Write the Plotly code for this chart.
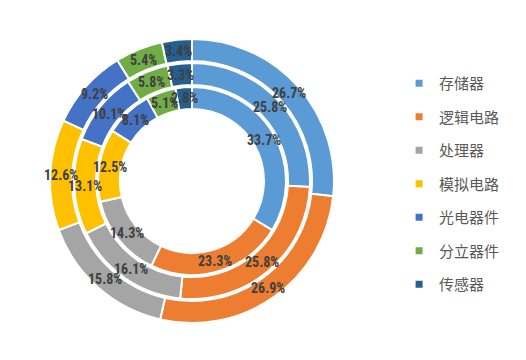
import math
import plotly.graph_objects as go

categories = ["存储器", "逻辑电路", "处理器", "模拟电路", "光电器件", "分立器件", "传感器"]
outer_vals = [26.7, 26.9, 15.8, 12.6, 9.2, 5.4, 3.4]
middle_vals = [25.8, 25.8, 16.1, 13.1, 10.1, 5.8, 3.3]
inner_vals = [33.7, 23.3, 14.3, 12.5, 8.1, 5.1, 2.8]
colors = ["#5B9BD5", "#ED7D31", "#A5A5A5", "#FFC000", "#4472C4", "#70AD47", "#255E91"]

# page body has an 8px margin, so the figure is drawn 8px smaller and offset
W, H = 518, 352
CX, CY = 184, 173  # pixel centre within the figure
R_OUT = 142
RING = 22
GAP = 2

fig = go.Figure()

def dom(r):
    cyb = H - CY
    return dict(x=[(CX - r) / W, (CX + r) / W], y=[(cyb - r) / H, (cyb + r) / H])

label_font = dict(family="Liberation Sans Narrow, Arial Narrow, Roboto Condensed, sans-serif",
                  size=14, color="#404040", weight="bold")

rings = [(outer_vals, R_OUT), (middle_vals, R_OUT - RING - GAP), (inner_vals, R_OUT - 2 * (RING + GAP))]
annotations = []
for vals, r in rings:
    fig.add_trace(go.Pie(
        labels=categories, values=vals, sort=False, direction="clockwise", rotation=0,
        domain=dom(r), hole=(r - RING) / r,
        marker=dict(colors=colors, line=dict(color="white", width=2)),
        textinfo="none", showlegend=False, hoverinfo="label+value",
    ))
    total = sum(vals)
    cum = 0.0
    rm = r - RING / 2
    for v in vals:
        a = math.radians((cum + v / 2) / total * 360)
        cum += v
        px = CX + rm * math.sin(a)
        py = CY - rm * math.cos(a)
        annotations.append(dict(x=px / W, y=1 - py / H, xref="paper", yref="paper",
                                text=f"{v:.1f}%", showarrow=False, font=label_font,
                                xanchor="center", yanchor="middle"))

# legend entries
for c, col in zip(categories, colors):
    fig.add_trace(go.Scatter(x=[None], y=[None], mode="markers", name=c,
                             marker=dict(symbol="square", size=7, color=col),
                             legendgroup=c, showlegend=True))

fig.update_layout(
    width=W, height=H, margin=dict(l=0, r=0, t=0, b=0),
    paper_bgcolor="white", plot_bgcolor="white",
    xaxis=dict(visible=False), yaxis=dict(visible=False),
    annotations=annotations,
    legend=dict(x=0.755, y=0.5, xanchor="left", yanchor="middle", tracegroupgap=11,
                font=dict(family="Noto Sans CJK SC", size=15, color="#595959"),
                itemwidth=30, bgcolor="rgba(0,0,0,0)"),
)

fig.write_html("out.html")
